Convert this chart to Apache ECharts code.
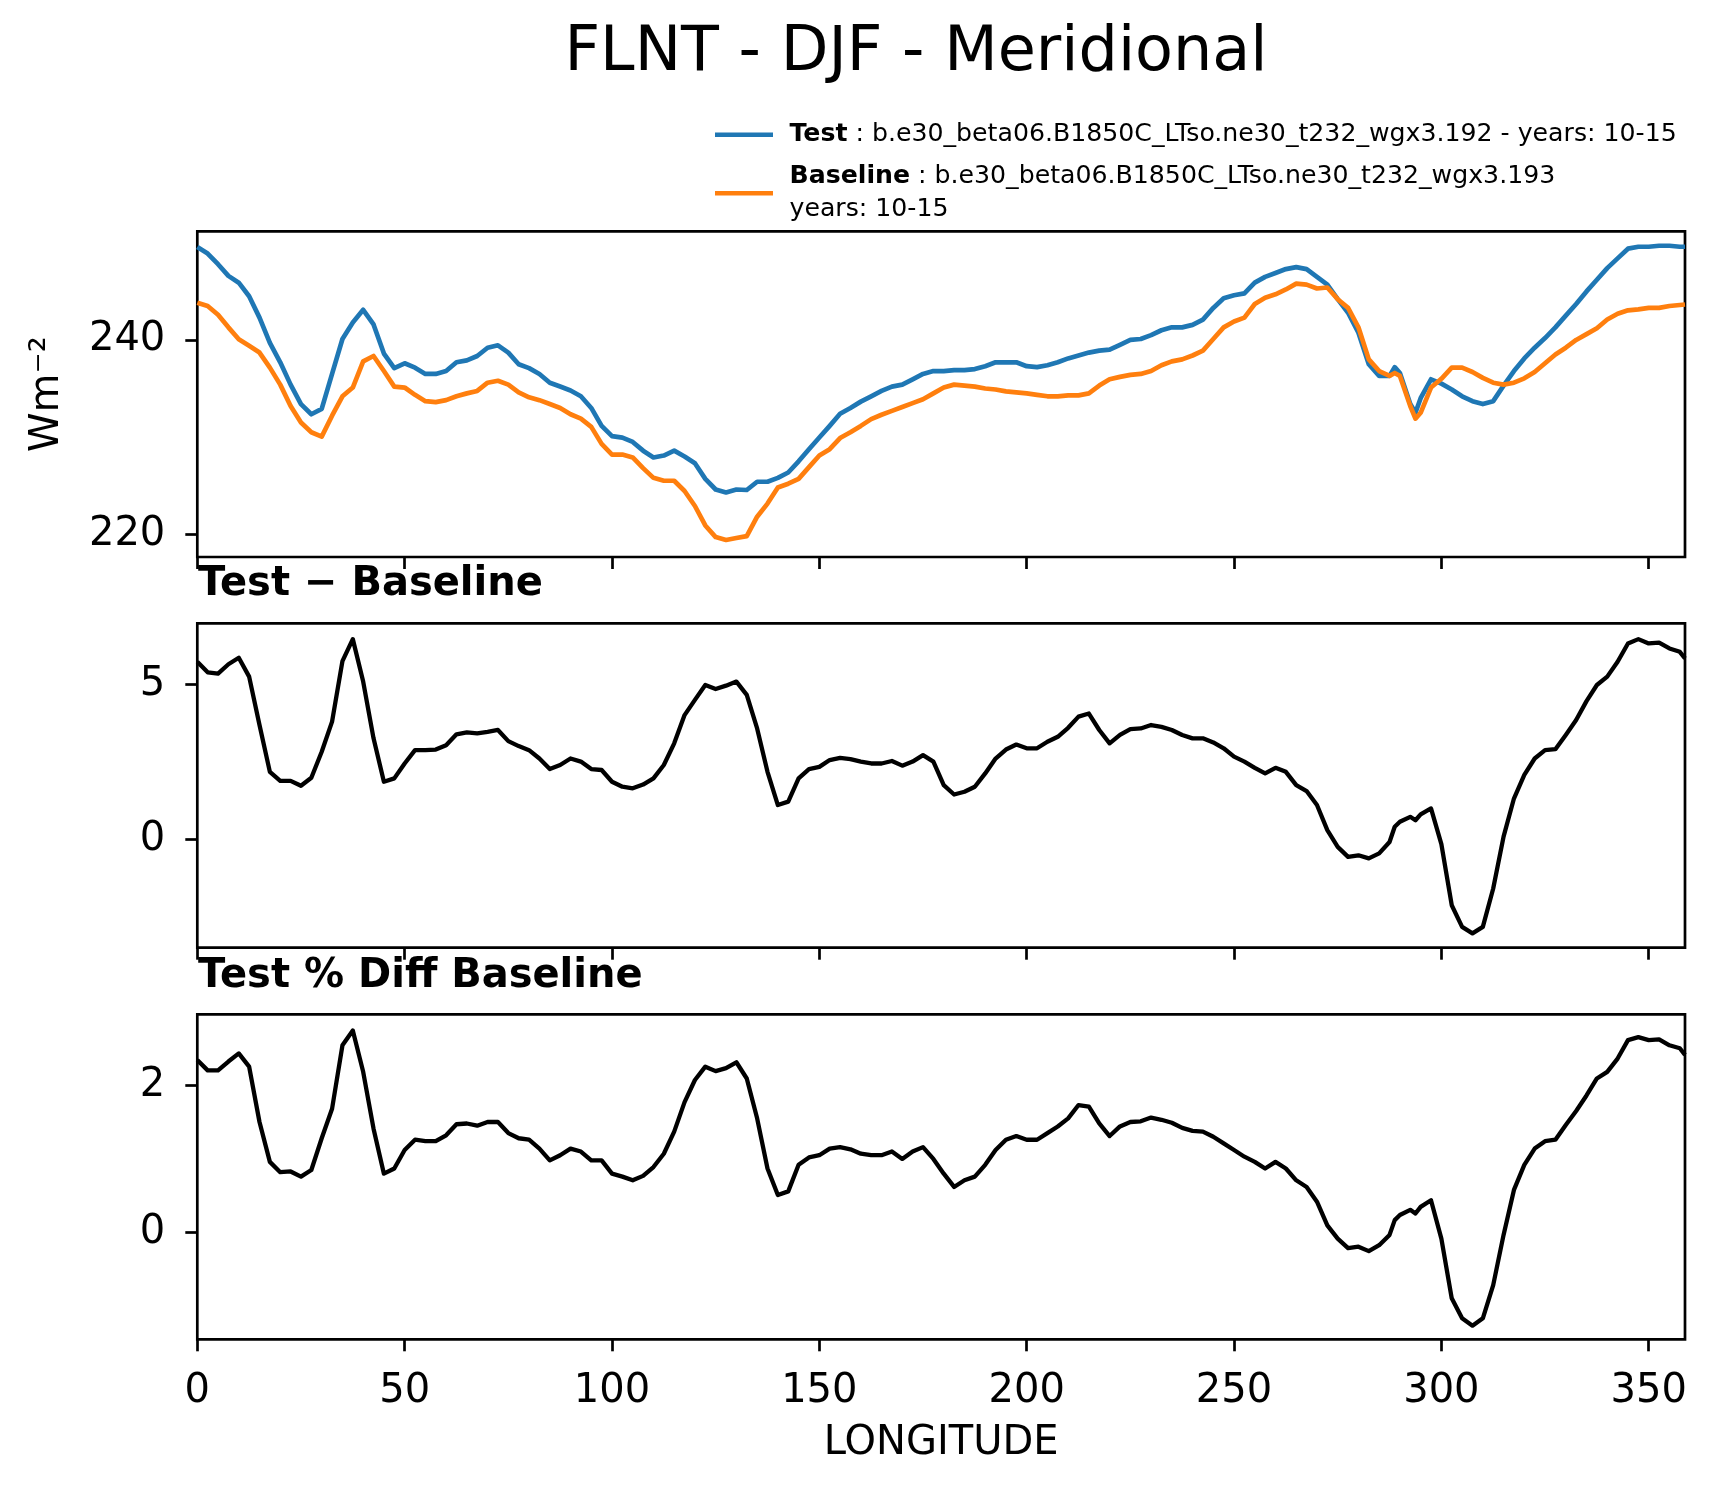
<!DOCTYPE html>
<html>
<head>
<meta charset="utf-8">
<title>FLNT - DJF - Meridional</title>
<script src="https://cdn.jsdelivr.net/npm/echarts@6.0.0/dist/echarts.min.js"></script>
<style>
  html, body { margin: 0; padding: 0; background: #fff; }
  #chart { width: 1717px; height: 1496px; }
</style>
</head>
<body>
<div id="chart"></div>
<script>
// longitude of each sample (deg east)
const lon = [
  0, 2.5, 5, 7.5, 10, 12.5, 15, 17.5, 20, 22.5,
  25, 27.5, 30, 32.5, 35, 37.5, 40, 42.5, 45, 47.5,
  50, 52.5, 55, 57.5, 60, 62.5, 65, 67.5, 70, 72.5,
  75, 77.5, 80, 82.5, 85, 87.5, 90, 92.5, 95, 97.5,
  100, 102.5, 105, 107.5, 110, 112.5, 115, 117.5, 120, 122.5,
  125, 127.5, 130, 132.5, 135, 137.5, 140, 142.5, 145, 147.5,
  150, 152.5, 155, 157.5, 160, 162.5, 165, 167.5, 170, 172.5,
  175, 177.5, 180, 182.5, 185, 187.5, 190, 192.5, 195, 197.5,
  200, 202.5, 205, 207.5, 210, 212.5, 215, 217.5, 220, 222.5,
  225, 227.5, 230, 232.5, 235, 237.5, 240, 242.5, 245, 247.5,
  250, 252.5, 255, 257.5, 260, 262.5, 265, 267.5, 270, 272.5,
  275, 277.5, 280, 282.5, 285, 287.5, 288.75, 290, 292.5, 293.75,
  295, 297.5, 300, 302.5, 305, 307.5, 310, 312.5, 315, 317.5,
  320, 322.5, 325, 327.5, 330, 332.5, 335, 337.5, 340, 342.5,
  345, 347.5, 350, 352.5, 355, 357.5, 358.75
];

// FLNT, test run (W m-2)
const testVals = [
  249.57, 248.9, 247.8, 246.6, 245.9, 244.5, 242.3, 239.7, 237.7, 235.4,
  233.4, 232.35, 232.9, 236.5, 240.1, 241.8, 243.1, 241.6, 238.6, 237.1,
  237.6, 237.15, 236.5, 236.5, 236.8, 237.7, 237.9, 238.35, 239.2, 239.45,
  238.7, 237.5, 237.1, 236.5, 235.6, 235.2, 234.8, 234.2, 233.0, 231.15,
  230.1, 229.95, 229.5, 228.6, 227.9, 228.1, 228.6, 228.0, 227.3, 225.7,
  224.6, 224.3, 224.6, 224.55, 225.4, 225.4, 225.8, 226.35, 227.5, 228.75,
  229.95, 231.15, 232.4, 233.0, 233.65, 234.2, 234.75, 235.2, 235.4, 235.95,
  236.5, 236.8, 236.8, 236.9, 236.9, 237.0, 237.3, 237.7, 237.7, 237.7,
  237.3, 237.2, 237.4, 237.7, 238.1, 238.4, 238.7, 238.9, 239.0, 239.5,
  240.0, 240.1, 240.5, 241.0, 241.3, 241.3, 241.55, 242.1, 243.3, 244.3,
  244.6, 244.8, 245.9, 246.5, 246.9, 247.3, 247.5, 247.3, 246.5, 245.7,
  244.2, 242.8, 240.75, 237.5, 236.3, 236.3, 237.2, 236.6, 233.4, 232.5,
  234.0, 235.95, 235.5, 234.9, 234.2, 233.7, 233.4, 233.7, 235.3, 236.8,
  238.1, 239.2, 240.2, 241.3, 242.5, 243.7, 245.0, 246.2, 247.4, 248.4,
  249.4, 249.6, 249.6, 249.7, 249.7, 249.6, 249.6
];

// FLNT, baseline run (W m-2)
const baseVals = [
  243.84, 243.5, 242.6, 241.3, 240.07, 239.4, 238.7, 237.15, 235.4, 233.2,
  231.5, 230.5, 230.05, 232.2, 234.2, 235.1, 237.8, 238.35, 236.8, 235.2,
  235.1, 234.35, 233.7, 233.6, 233.8, 234.2, 234.5, 234.75, 235.6, 235.8,
  235.4, 234.6, 234.1, 233.8, 233.4, 233.0, 232.35, 231.9, 231.05, 229.3,
  228.2, 228.2, 227.9, 226.8, 225.8, 225.5, 225.5, 224.45, 222.9, 220.9,
  219.7, 219.4, 219.6, 219.8, 221.8, 223.15, 224.8, 225.2, 225.7, 226.9,
  228.1, 228.75, 229.9, 230.5, 231.15, 231.85, 232.3, 232.7, 233.1, 233.5,
  233.9, 234.5, 235.1, 235.4, 235.3, 235.2, 235.0, 234.9, 234.7, 234.6,
  234.5, 234.35, 234.2, 234.2, 234.3, 234.3, 234.5, 235.3, 235.95, 236.2,
  236.4, 236.5, 236.8, 237.4, 237.8, 238.0, 238.4, 238.9, 240.1, 241.3,
  241.9, 242.3, 243.7, 244.35, 244.7, 245.2, 245.8, 245.7, 245.3, 245.4,
  244.2, 243.3, 241.3, 238.0, 236.8, 236.3, 236.6, 236.3, 233.2, 231.9,
  232.5, 235.1, 236.0, 237.15, 237.15, 236.7, 236.1, 235.6, 235.4, 235.6,
  236.05, 236.7, 237.6, 238.5, 239.2, 240.0, 240.6, 241.2, 242.1, 242.7,
  243.05, 243.15, 243.3, 243.3, 243.5, 243.6, 243.65
];

// Test - Baseline (W m-2)
const diffVals = [
  5.73, 5.39, 5.35, 5.65, 5.86, 5.25, 3.69, 2.18, 1.89, 1.89,
  1.73, 1.99, 2.83, 3.8, 5.75, 6.46, 5.09, 3.26, 1.86, 1.97,
  2.45, 2.88, 2.88, 2.90, 3.04, 3.39, 3.45, 3.42, 3.47, 3.53,
  3.17, 3.01, 2.88, 2.61, 2.27, 2.40, 2.61, 2.51, 2.27, 2.24,
  1.86, 1.70, 1.65, 1.77, 1.97, 2.40, 3.10, 4.01, 4.5, 4.98,
  4.85, 4.96, 5.09, 4.66, 3.58, 2.18, 1.11, 1.22, 1.97, 2.27,
  2.34, 2.56, 2.63, 2.59, 2.51, 2.45, 2.45, 2.53, 2.38, 2.51,
  2.72, 2.51, 1.75, 1.45, 1.54, 1.70, 2.13, 2.61, 2.90, 3.06,
  2.94, 2.94, 3.15, 3.31, 3.60, 3.96, 4.06, 3.53, 3.10, 3.37,
  3.56, 3.58, 3.69, 3.63, 3.53, 3.37, 3.26, 3.26, 3.13, 2.94,
  2.67, 2.51, 2.31, 2.13, 2.31, 2.18, 1.75, 1.56, 1.11, 0.30,
  -0.24, -0.56, -0.51, -0.61, -0.45, -0.08, 0.41, 0.57, 0.73, 0.62,
  0.81, 1.0, -0.15, -2.12, -2.82, -3.03, -2.82, -1.58, 0.09, 1.32,
  2.08, 2.61, 2.88, 2.91, 3.37, 3.85, 4.46, 4.98, 5.25, 5.73,
  6.32, 6.46, 6.32, 6.35, 6.16, 6.05, 5.84
];

// Test % Diff Baseline (%)
const pctVals = [
  2.34, 2.20, 2.20, 2.32, 2.43, 2.25, 1.50, 0.96, 0.82, 0.83,
  0.76, 0.85, 1.28, 1.68, 2.54, 2.74, 2.18, 1.41, 0.80, 0.87,
  1.12, 1.26, 1.24, 1.24, 1.32, 1.47, 1.48, 1.45, 1.50, 1.50,
  1.35, 1.28, 1.26, 1.14, 0.98, 1.05, 1.14, 1.10, 0.98, 0.98,
  0.80, 0.76, 0.71, 0.77, 0.89, 1.07, 1.37, 1.77, 2.07, 2.25,
  2.19, 2.23, 2.31, 2.09, 1.55, 0.87, 0.51, 0.56, 0.92, 1.02,
  1.05, 1.14, 1.16, 1.13, 1.07, 1.05, 1.05, 1.10, 1.00, 1.10,
  1.16, 1.0, 0.8, 0.62, 0.71, 0.76, 0.92, 1.12, 1.26, 1.31,
  1.26, 1.26, 1.35, 1.44, 1.55, 1.73, 1.71, 1.48, 1.31, 1.44,
  1.50, 1.51, 1.56, 1.53, 1.49, 1.42, 1.38, 1.37, 1.30, 1.21,
  1.12, 1.03, 0.96, 0.87, 0.96, 0.87, 0.71, 0.62, 0.42, 0.10,
  -0.08, -0.21, -0.19, -0.25, -0.17, -0.03, 0.17, 0.24, 0.31, 0.26,
  0.35, 0.44, -0.08, -0.89, -1.16, -1.26, -1.16, -0.71, -0.03, 0.58,
  0.92, 1.14, 1.24, 1.26, 1.46, 1.65, 1.86, 2.09, 2.18, 2.36,
  2.61, 2.65, 2.61, 2.62, 2.54, 2.50, 2.41
];

// tick positions
const lonTicks = [0, 50, 100, 150, 200, 250, 300, 350];
const fluxTicks = [220, 240];
const diffTicks = [0, 5];
const pctTicks = [0, 2];

const FONT = 'DejaVu Sans';
const pairs = vals => lon.map((x, i) => [x, vals[i]]);

// three stacked panels sharing the longitude axis
const grids = [
  { left: 197.3, top: 231.3, width: 1487.7, height: 325.7 },
  { left: 197.3, top: 623.3, width: 1487.7, height: 324.4 },
  { left: 197.3, top: 1014.3, width: 1487.7, height: 325 }
].map(g => Object.assign(g, { show: true, borderColor: '#000', borderWidth: 2.7, backgroundColor: 'transparent' }));

const tickStyle = { color: '#000', width: 2.7 };
const labelStyle = { fontSize: 40, fontFamily: FONT, color: '#000', margin: 32 };

function xAxisFor(idx, withLabels) {
  return {
    type: 'value', gridIndex: idx, min: 0, max: 358.75,
    position: 'bottom',
    axisLine: { show: false, onZero: false },
    splitLine: { show: false },
    axisTick: { show: true, inside: false, length: 12, lineStyle: tickStyle, customValues: lonTicks },
    axisLabel: Object.assign({ show: withLabels, customValues: lonTicks }, labelStyle),
    name: withLabels ? 'LONGITUDE' : '',
    nameLocation: 'middle', nameGap: 84,
    nameTextStyle: { fontSize: 40, fontFamily: FONT, color: '#000' }
  };
}

function yAxisFor(idx, min, max, ticks, name) {
  return {
    type: 'value', gridIndex: idx, min: min, max: max,
    position: 'left',
    axisLine: { show: false, onZero: false },
    splitLine: { show: false },
    axisTick: { show: true, inside: false, length: 12, lineStyle: tickStyle, customValues: ticks },
    axisLabel: Object.assign({ customValues: ticks }, labelStyle),
    name: name || '',
    nameLocation: 'middle', nameRotate: 90, nameGap: 130,
    nameTextStyle: { fontSize: 40, fontFamily: FONT, color: '#000' }
  };
}

function lineSeries(name, vals, idx, color, width) {
  return {
    name: name, type: 'line', xAxisIndex: idx, yAxisIndex: idx,
    data: pairs(vals), symbol: 'none', smooth: false, clip: true,
    itemStyle: { color: color },
    lineStyle: { color: color, width: width, join: 'round' },
    emphasis: { disabled: true }
  };
}

const chart = echarts.init(document.getElementById('chart'), null, { renderer: 'canvas' });

chart.setOption({
  animation: false,
  backgroundColor: '#fff',
  textStyle: { fontFamily: FONT },
  grid: grids,
  xAxis: [xAxisFor(0, false), xAxisFor(1, false), xAxisFor(2, true)],
  yAxis: [
    yAxisFor(0, 217.65, 251.19, fluxTicks, 'Wm\u207B\u00B2'),
    yAxisFor(1, -3.49, 6.97, diffTicks),
    yAxisFor(2, -1.445, 2.96, pctTicks)
  ],
  legend: {
    orient: 'vertical', left: 715, top: 118.3, padding: 0,
    itemWidth: 58, itemHeight: 4.5, itemGap: 9.6, icon: 'rect',
    selectedMode: false,
    data: ['Test', 'Baseline'],
    formatter: function (name) {
      if (name === 'Test') {
        return '{b|Test} : b.e30_beta06.B1850C_LTso.ne30_t232_wgx3.192 - years: 10-15';
      }
      return '{b|Baseline} : b.e30_beta06.B1850C_LTso.ne30_t232_wgx3.193\nyears: 10-15';
    },
    textStyle: {
      fontSize: 25.2, fontFamily: FONT, color: '#000', lineHeight: 32.7,
      padding: [0, 0, 0, 11.5],
      rich: { b: { fontSize: 25.2, fontFamily: FONT, fontWeight: 'bold', color: '#000', lineHeight: 32.7 } }
    }
  },
  graphic: [
    { type: 'text', x: 916, y: 54, style: { text: 'FLNT - DJF - Meridional', fontSize: 62, fontFamily: FONT, fill: '#000', align: 'center', verticalAlign: 'middle' } },
    { type: 'text', x: 198, y: 584.5, style: { text: 'Test \u2212 Baseline', fontSize: 40, fontWeight: 'bold', fontFamily: FONT, fill: '#000', align: 'left', verticalAlign: 'middle' } },
    { type: 'text', x: 198, y: 977, style: { text: 'Test % Diff Baseline', fontSize: 40, fontWeight: 'bold', fontFamily: FONT, fill: '#000', align: 'left', verticalAlign: 'middle' } }
  ],
  series: [
    lineSeries('Test', testVals, 0, '#1f77b4', 4.7),
    lineSeries('Baseline', baseVals, 0, '#ff7f0e', 4.7),
    lineSeries('Test - Baseline', diffVals, 1, '#000', 4.3),
    lineSeries('Test % Diff Baseline', pctVals, 2, '#000', 4.3)
  ]
});
</script>
</body>
</html>
